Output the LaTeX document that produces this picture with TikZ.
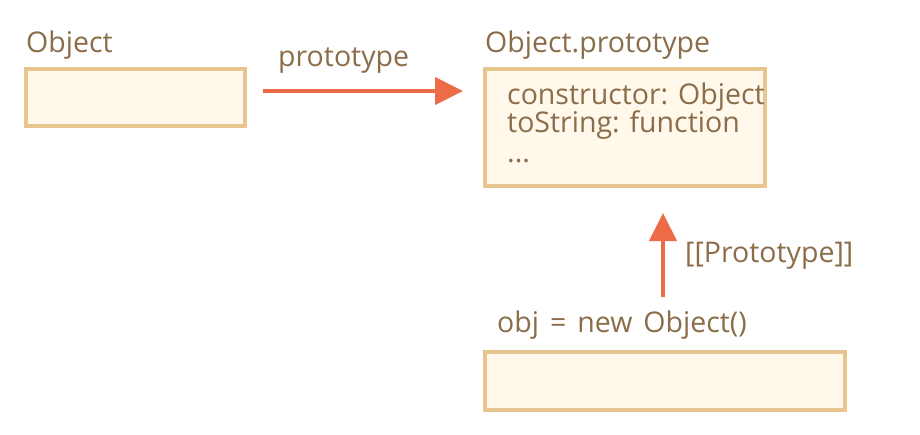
\documentclass[tikz,border=0pt]{standalone}
\usepackage{fontspec}
\setmainfont{Open Sans}
\usetikzlibrary{arrows.meta}
\definecolor{txt}{HTML}{8B6D4A}
\definecolor{boxfill}{HTML}{FFF8EB}
\definecolor{boxdraw}{HTML}{E8C48E}
\definecolor{arr}{HTML}{EE6B47}
\tikzset{
  lbl/.style={anchor=base west, inner sep=0pt, text=txt, font=\fontsize{28.5}{30}\selectfont},
  objbox/.style={draw=boxdraw, fill=boxfill, line width=4pt},
  link/.style={draw=arr, line width=4pt, -{Triangle[length=28pt,width=27pt]}, shorten >=0pt}
}
\begin{document}
\begin{tikzpicture}[x=1pt,y=-1pt]
\useasboundingbox (0,0) rectangle (920,434);
\fill[white] (0,0) rectangle (920,434);
% boxes
\draw[objbox] (26,69) rectangle (245,126);
\coordinate (objR) at (263,91);
\draw[objbox] (485,69) rectangle (765,186);
\coordinate (protoL) at (463,91);
\coordinate (protoB) at (663,213);
\draw[objbox] (485,352) rectangle (845,410);
\coordinate (objT) at (663,297);
% labels
\node[lbl] (l1) at (26,52) {Object};
\node[lbl] (l2) at (485,52) {Object.prototype};
\node[lbl] (l3) at (278,66) {prototype};
\node[lbl] (c1) at (507,104) {constructor: Object};
\node[lbl] (c2) at (507,132) {toString: function};
\node[lbl] (c3) at (507,162) {...};
\node[lbl] (l4) at (685,262) {[[Prototype]]};
\node[lbl] (l5) at (497,332) {\spaceskip=11pt obj = new Object()};
% arrows
\draw[link] (objR) -- (protoL);
\draw[link] (objT) -- (protoB);
\end{tikzpicture}
\end{document}
